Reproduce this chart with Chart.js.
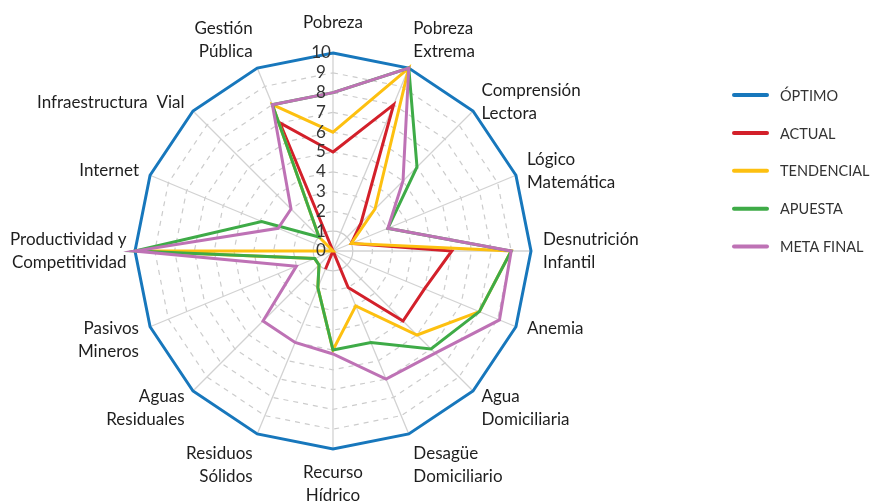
<!DOCTYPE html>
<html>
<head>
<meta charset="utf-8">
<script src="https://cdn.jsdelivr.net/npm/chart.js@4.4.1/dist/chart.umd.min.js"></script>
<style>
  html, body { margin: 0; padding: 0; background: #fff; }
  #wrap { width: 870px; height: 503px; }
</style>
</head>
<body>
<div id="wrap"><canvas id="radar" width="870" height="503"></canvas></div>
<script>
// ejes del radar (16 indicadores)
const ejes = [
  ['Pobreza'], ['Pobreza', 'Extrema'], ['Comprensión', 'Lectora'], ['Lógico', 'Matemática'],
  ['Desnutrición', 'Infantil'], ['Anemia'], ['Agua', 'Domiciliaria'], ['Desagüe', 'Domiciliario'],
  ['Recurso', 'Hídrico'], ['Residuos', 'Sólidos'], ['Aguas', 'Residuales'], ['Pasivos', 'Mineros'],
  ['Productividad y', 'Competitividad'], ['Internet'], ['Infraestructura  Vial'], ['Gestión', 'Pública']
];

const optimo     = [10, 10, 10, 10, 10, 10, 10, 10, 10, 10, 10, 10, 10, 10, 10, 10];
const actual     = [5, 8, 2, 1, 6, 5, 5, 2, 0, 1, 0, 0, 0, 0, 0, 7];
const tendencial = [6, 10, 3, 1, 9, 8, 6, 3, 5, 2, 1, 1, 10, 0, 1, 8];
const apuesta    = [8, 10, 6, 3, 9, 8, 7, 5, 5, 2, 1, 1, 10, 3.9, 1, 8];
const metaFinal  = [8, 10, 5, 3, 9, 9.1, 7.3, 7, 5.2, 5, 5, 2, 10, 3, 3, 8];

const escala = ['0', '1', '2', '3', '4', '5', '6', '7', '8', '9', '10'];

const FONT = 'Lato, "Liberation Sans", sans-serif';

// rótulos de escala, ejes y leyenda
const rotulos = {
  id: 'rotulos',
  afterDatasetsDraw(chart) {
    const r = chart.scales.r;
    const ctx = chart.ctx;
    ctx.save();

    ctx.font = '17px ' + FONT;
    ctx.fillStyle = '#333';
    ctx.textAlign = 'center';
    ctx.textBaseline = 'middle';
    escala.forEach(t => {
      const p = r.getPointPositionForValue(0, Number(t));
      ctx.fillText(t, p.x - 12, p.y);
    });

    ctx.fillStyle = '#1e1e1e';
    const lh = 23;
    chart.data.labels.forEach((lines, i) => {
      const ang = r.getIndexAngle(i);
      const s = Math.sin(ang), c = Math.cos(ang);
      const p = r.getPointPosition(i, r.drawingArea + 12);
      const align = Math.abs(s) < 0.01 ? 'center' : (s > 0 ? 'left' : 'right');
      const h = lines.length * lh;
      let top;
      if (align === 'center') top = c > 0 ? p.y - h - 7 : p.y;
      else if (c > 0.9) top = p.y - h + 6;
      else if (c < -0.9) top = p.y - 3;
      else if (c < -0.01) top = p.y - lh / 2 - 3;
      else top = p.y - h / 2;
      const w = Math.max(...lines.map(l => ctx.measureText(l).width));
      let x = p.x;
      if (align === 'right' && x - w < 10) x = 10 + w;
      ctx.textAlign = align;
      lines.forEach((l, k) => ctx.fillText(l, x, top + lh * k + lh / 2));
    });

    ctx.font = '14.5px ' + FONT;
    ctx.fillStyle = '#333';
    ctx.textAlign = 'left';
    chart.data.datasets.forEach((ds, i) => {
      const y = 95 + i * 37.9;
      ctx.strokeStyle = ds.borderColor;
      ctx.lineWidth = 4;
      ctx.lineCap = 'round';
      ctx.beginPath();
      ctx.moveTo(734, y);
      ctx.lineTo(767, y);
      ctx.stroke();
      ctx.fillText(ds.label, 780, y + 1);
    });
    ctx.restore();
  }
};

const serie = (label, data, color, order) => ({
  label, data, order,
  borderColor: color,
  backgroundColor: color,
  borderWidth: 3,
  fill: false,
  pointRadius: 0,
  pointHoverRadius: 0,
  tension: 0
});

new Chart(document.getElementById('radar').getContext('2d'), {
  type: 'radar',
  data: {
    labels: ejes,
    datasets: [
      serie('ÓPTIMO', optimo, '#1777bc', 5),
      serie('ACTUAL', actual, '#d3202a', 4),
      serie('TENDENCIAL', tendencial, '#fdc010', 3),
      serie('APUESTA', apuesta, '#3eab47', 2),
      serie('META FINAL', metaFinal, '#be72b5', 1)
    ]
  },
  options: {
    responsive: false,
    animation: false,
    devicePixelRatio: 1,
    layout: { padding: { top: 53, bottom: 54, left: 135, right: 339 } },
    plugins: { legend: { display: false }, tooltip: { enabled: false } },
    scales: {
      r: {
        min: 0,
        max: 10,
        ticks: { stepSize: 1, display: false },
        pointLabels: { display: false },
        grid: { color: '#cccccc', lineWidth: 1.2, circular: c => c.index === 1 },
        border: { dash: c => (c.index === 1 ? [] : [5, 5]) },
        angleLines: { color: '#d2d2d2', lineWidth: 1.3 }
      }
    }
  },
  plugins: [rotulos]
});
</script>
</body>
</html>
